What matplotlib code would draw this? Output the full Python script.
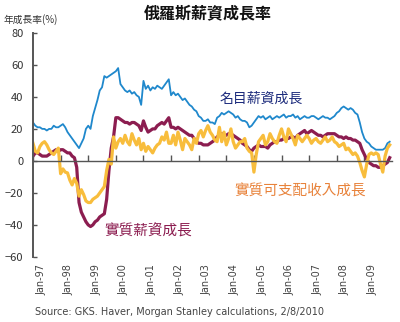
import numpy as np
import pandas as pd
import matplotlib
matplotlib.use('Agg')
import matplotlib.pyplot as plt

plt.rcParams['font.family'] = ['Noto Sans CJK TC', 'DejaVu Sans']

# Monthly year-on-year growth, Jan-1997 .. Dec-2009 (%)
nominal_wage = [
    24, 22, 21, 21, 20, 20, 19, 20, 20, 22, 21, 21,      # 1997
    22, 23, 21, 18, 16, 14, 12, 10, 8, 11, 14, 20,        # 1998
    22, 20, 28, 33, 38, 44, 46, 53, 52, 53, 54, 55,       # 1999
    56, 58, 48, 46, 44, 43, 44, 42, 43, 41, 40, 35,       # 2000
    50, 45, 47, 44, 46, 45, 47, 46, 45, 47, 49, 51,       # 2001
    41, 43, 41, 42, 40, 38, 39, 37, 35, 34, 32, 31,       # 2002
    28, 27, 25, 25, 26, 24, 24, 23, 27, 28, 30, 29,       # 2003
    30, 31, 30, 29, 27, 28, 26, 25, 25, 24, 21, 22,       # 2004
    24, 26, 28, 27, 28, 26, 27, 28, 26, 27, 28, 27,       # 2005
    28, 29, 27, 28, 28, 29, 27, 28, 26, 27, 28, 27,       # 2006
    27, 28, 28, 27, 26, 27, 28, 27, 27, 26, 27, 28,       # 2007
    30, 31, 33, 34, 33, 32, 33, 32, 30, 29, 24, 18,       # 2008
    14, 12, 11, 9, 8, 7, 7, 7, 7, 8, 11, 12,              # 2009
]
real_wage = [
    3, 5, 5, 4, 3, 3, 3, 4, 5, 6, 7, 6,
    7, 7, 6, 5, 5, 3, 2, -4, -26, -32, -35, -38,
    -40, -41, -40, -38, -37, -35, -34, -33, -24, -6, 8, 15,
    27, 27, 26, 25, 24, 24, 23, 24, 24, 23, 22, 19,
    25, 21, 18, 19, 20, 20, 22, 23, 24, 23, 25, 27,
    21, 21, 20, 21, 20, 19, 18, 17, 16, 16, 14, 12,
    11, 11, 10, 10, 10, 11, 12, 13, 15, 16, 17, 16,
    16, 17, 17, 16, 15, 14, 13, 11, 10, 9, 7, 6,
    8, 9, 10, 9, 9, 9, 8, 10, 11, 12, 12, 13,
    13, 14, 14, 14, 15, 15, 14, 16, 17, 18, 19, 17,
    18, 19, 18, 17, 16, 16, 15, 16, 17, 17, 17, 17,
    16, 15, 15, 14, 15, 14, 14, 13, 13, 12, 11, 7,
    4, 1, -1, -2, -3, -3, -4, -4, -3, -2, -1, 2,
]
real_disposable = [
    11, 6, 5, 9, 11, 12, 10, 7, 5, 4, 6, 8,
    -8, -5, -7, -7.5, -12, -15, -11, -14, -22, -18, -21, -25,
    -26, -26, -24, -23, -22, -20, -18, -16, -6, 1, -2, 15,
    8, 12, 14, 11, 16, 12, 10, 17, 13, 10, 14, 7,
    11, 6, 9, 7, 5, 8, 10, 11, 15, 13, 18, 11,
    11, 16, 10, 18, 13, 7, 14, 12, 10, 7, 14, 11,
    17, 19, 15, 19, 22, 18, 16, 13, 12, 21, 12, 18,
    10, 14, 20, 12, 8, 10, 12, 12, 14, 8, 6, 5,
    -7, 4, 12, 14, 16, 10, 12, 17, 14, 12, 11, 16,
    20, 15, 12, 20, 17, 14, 10, 16, 14, 12, 14, 16,
    14, 11, 13, 14, 12, 11, 13, 15, 12, 13, 15, 12,
    11, 9, 10, 11, 7, 8, 6, 4, 5, 3, -1, -6,
    -10, -2, 4, 5, 4, 5, 4, -2, -7, 3, 8, 10,
]
year_labels = ['Jan-97', 'Jan-98', 'Jan-99', 'Jan-00', 'Jan-01', 'Jan-02', 'Jan-03',
               'Jan-04', 'Jan-05', 'Jan-06', 'Jan-07', 'Jan-08', 'Jan-09']
y_ticks = [80, 60, 40, 20, 0, -20, -40, -60]

months = np.arange(len(nominal_wage))
year_starts = np.arange(len(year_labels)) * 12

fig = plt.figure(figsize=(4.0, 3.22), dpi=100)
ax = fig.add_axes([0.0825, 0.202, 0.8975, 0.696])

ax.plot(months, nominal_wage, color='#1f88cc', lw=1.3)
ax.plot(months, real_wage, color='#8c1d50', lw=2.3)
ax.plot(months, real_disposable, color='#f8bd3c', lw=2.3)

ax.set_xlim(0, 156)
ax.set_ylim(-60, 80)

ax.spines['top'].set_visible(False)
ax.spines['right'].set_visible(False)
ax.spines['left'].set_color('#555555')
ax.spines['left'].set_linewidth(1.4)
ax.spines['bottom'].set_position(('data', 0))
ax.spines['bottom'].set_color('#555555')
ax.spines['bottom'].set_linewidth(1.0)

ax.set_yticks(y_ticks)
ax.tick_params(axis='y', direction='in', length=3, width=1, color='#555555',
               labelsize=8, labelcolor='#333333', pad=7)
ax.set_xticks(year_starts)
ax.tick_params(axis='x', direction='in', length=4, width=1, color='#555555',
               labelbottom=False)

# year labels sit under the plot, not under the zero line
sec = ax.secondary_xaxis('bottom')
sec.set_xticks(year_starts + 3.5)
sec.set_xticklabels(year_labels, rotation=90, fontsize=7, color='#444444',
                    family='DejaVu Sans')
sec.tick_params(length=0, pad=5)
sec.spines['bottom'].set_visible(False)

fig.text(0.52, 0.955, '俄羅斯薪資成長率', ha='center', va='center',
         fontsize=11.5, fontweight='bold', color='#111111')
fig.text(0.01, 0.94, '年成長率(%)', ha='left', va='center',
         fontsize=7, color='#333333')

ax.text(0.635, 0.705, '名目薪資成長', transform=ax.transAxes, ha='center',
        va='center', fontsize=10, color='#1c2b7c')
ax.text(0.32, 0.115, '實質薪資成長', transform=ax.transAxes, ha='center',
        va='center', fontsize=10.5, color='#8c1d50')
ax.text(0.743, 0.29, '實質可支配收入成長', transform=ax.transAxes, ha='center',
        va='center', fontsize=10.5, color='#e8823a')

fig.text(0.088, 0.032, 'Source: GKS. Haver, Morgan Stanley calculations, 2/8/2010',
         ha='left', va='center', fontsize=7, color='#444444', family='DejaVu Sans')

fig.savefig('out.png', dpi=100)
